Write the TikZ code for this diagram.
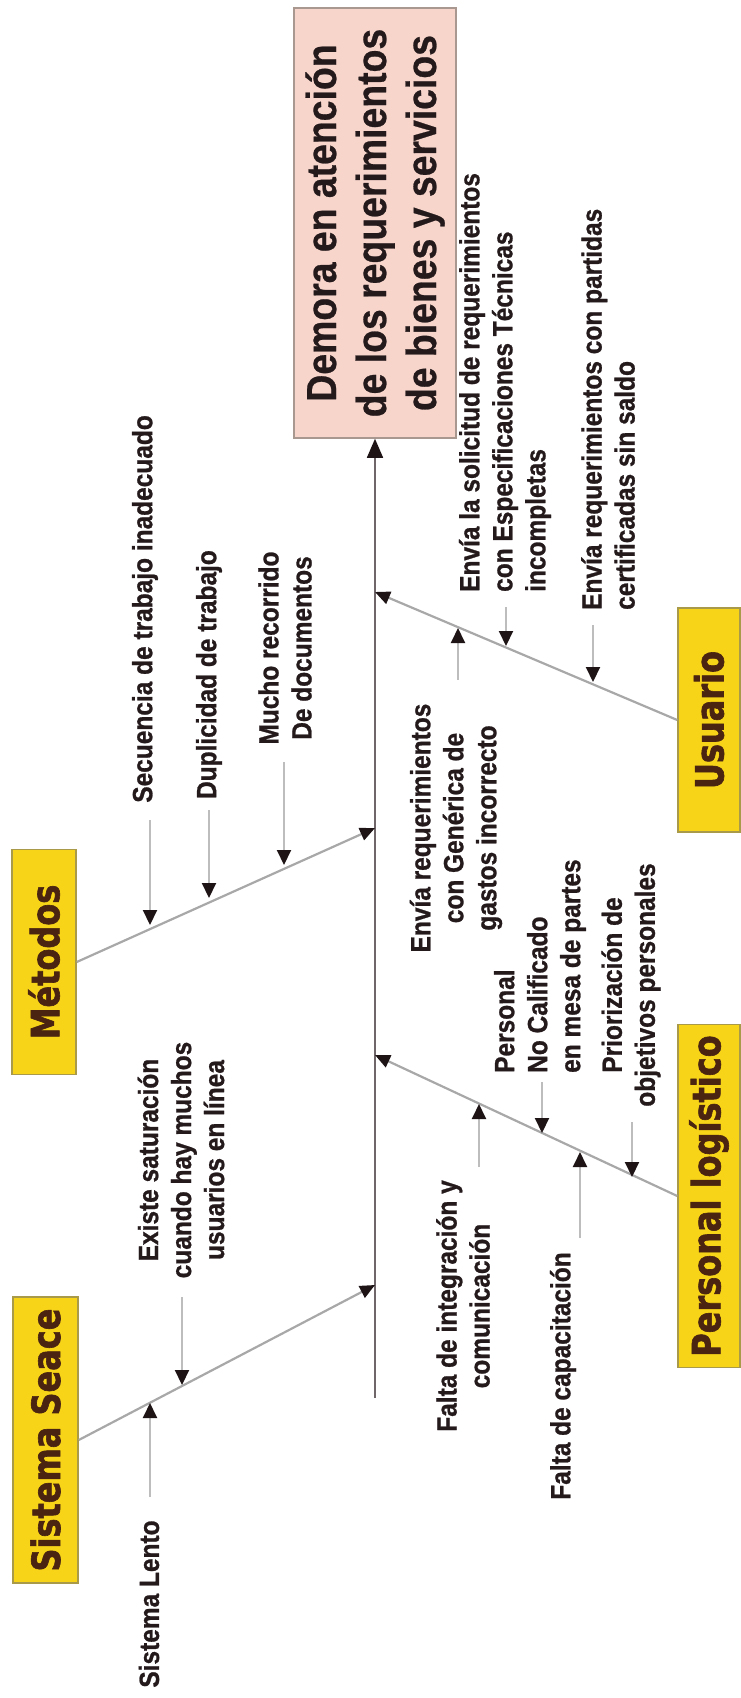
\documentclass[tikz,border=0pt]{standalone}
\usepackage{fontspec}
\setmainfont{Liberation Sans}
\newfontfamily\lblfont{Liberation Sans}[FakeStretch=0.88, BoldFeatures={FakeBold=0.9}]
\newfontfamily\efffont{Liberation Sans}[FakeStretch=0.89, BoldFeatures={FakeBold=0.6}]
\newfontfamily\catfont{DejaVu Sans}[FakeStretch=0.82, BoldFeatures={FakeBold=1.6}]
\usetikzlibrary{arrows.meta}

\definecolor{efffill}{HTML}{F8D5CB}
\definecolor{effdraw}{HTML}{A89890}
\definecolor{catfill}{HTML}{F7D417}
\definecolor{catdraw}{HTML}{A89A48}
\definecolor{cattext}{HTML}{4A2410}
\definecolor{labelcol}{HTML}{241A1C}
\definecolor{branchcol}{HTML}{A8A8A8}
\definecolor{spinecol}{HTML}{6E6668}
\definecolor{causecol}{HTML}{BDBDBD}
\definecolor{headcol}{HTML}{1E1416}

\tikzset{
  effectbox/.style={draw=effdraw, fill=efffill, line width=1.5pt, rotate=90,
    align=center, inner sep=0pt, text=labelcol,
    font=\efffont\fontsize{42}{50}\selectfont\bfseries},
  catbox/.style={draw=catdraw, fill=catfill, line width=1.5pt, rotate=90,
    inner sep=0pt, text=cattext,
    font=\catfont\fontsize{39}{42}\selectfont\bfseries},
  lbl/.style={rotate=90, inner sep=0pt, text=labelcol,
    font=\lblfont\fontsize{27.8}{33}\selectfont\bfseries},
  spine/.style={draw=spinecol, line width=1.5pt,
    -{Triangle[length=19pt,width=16pt,color=headcol]}},
  branch/.style={draw=branchcol, line width=2.2pt,
    -{Triangle[length=15pt,width=13pt,color=headcol]}},
  cause/.style={draw=causecol, line width=2pt,
    -{Triangle[length=15pt,width=14pt,color=headcol]}}
}

\begin{document}
\begin{tikzpicture}[x=1pt,y=-1pt]
\useasboundingbox (0,0) rectangle (741,1698);

% effect
\node[effectbox, minimum width=430pt, minimum height=162pt] (effect) at (375,223)
  {Demora en atención\\de los requerimientos\\de bienes y servicios};

% category boxes
\node[catbox, minimum width=286pt, minimum height=65pt] (seace) at (45.5,1440) {Sistema Seace};
\node[catbox, minimum width=225pt, minimum height=64pt] (metodos) at (44,962) {Métodos};
\node[catbox, minimum width=224pt, minimum height=62pt] (usuario) at (709,720) {Usuario};
\node[catbox, minimum width=343pt, minimum height=62pt] (personal) at (709,1196) {Personal logístico};

% spine
\coordinate (spbot) at (375,1398);
\draw[spine] (spbot) -- (effect.west);

% branch ends on the spine
\coordinate (jm) at (375,828);
\coordinate (js) at (375,1285);
\coordinate (ju) at (375,592);
\coordinate (jp) at (375,1055);
\draw[branch] (metodos.south) -- (jm);
\draw[branch] (seace.south) -- (js);
\draw[branch] (usuario.north) -- (ju);
\draw[branch] (personal.north) -- (jp);

% Métodos causes
\node[lbl, anchor=east] (l1) at (145,415) {Secuencia de trabajo inadecuado};
\node[lbl, anchor=east] (l2) at (209,550) {Duplicidad de trabajo};
\node[lbl, align=center] (l3) at (285,648) {Mucho recorrido\\De documentos};
\coordinate (a1) at (150,820); \coordinate (b1) at (150,925);
\coordinate (a2) at (209,810); \coordinate (b2) at (209,898);
\coordinate (a3) at (284,762); \coordinate (b3) at (284,865);
\draw[cause] (a1) -- (b1);
\draw[cause] (a2) -- (b2);
\draw[cause] (a3) -- (b3);

% Sistema Seace causes
\node[lbl, align=center] (l4) at (181,1160) {Existe saturación\\cuando hay muchos\\usuarios en línea};
\node[lbl] (l5) at (149,1604) {Sistema Lento};
\coordinate (a4) at (182,1297); \coordinate (b4) at (182,1385);
\coordinate (a5) at (150,1497); \coordinate (b5) at (150,1403);
\draw[cause] (a4) -- (b4);
\draw[cause] (a5) -- (b5);

% Usuario causes
\node[lbl, align=left, anchor=west] (l6) at (505,592)
  {Envía la solicitud de requerimientos\\con Especificaciones Técnicas\\incompletas};
\node[lbl, align=left, anchor=west] (l7) at (608,610)
  {Envía requerimientos con partidas\\certificadas sin saldo};
\node[lbl, align=center] (l8) at (456,828)
  {Envía requerimientos\\con Genérica de\\gastos incorrecto};
\coordinate (a6) at (506,607); \coordinate (b6) at (506,646);
\coordinate (a7) at (593,625); \coordinate (b7) at (593,682);
\coordinate (a8) at (458,680); \coordinate (b8) at (458,628);
\draw[cause] (a6) -- (b6);
\draw[cause] (a7) -- (b7);
\draw[cause] (a8) -- (b8);

% Personal logístico causes
\node[lbl, align=left, anchor=west] (l9) at (540,1073)
  {Personal\\No Calificado\\en mesa de partes};
\node[lbl, align=center] (l10) at (631,985) {Priorización de\\objetivos personales};
\node[lbl, align=center] (l11) at (463,1306) {Falta de integración y\\comunicación};
\node[lbl] (l12) at (563,1376) {Falta de capacitación};
\coordinate (a9) at (542,1082); \coordinate (b9) at (542,1133);
\coordinate (a10) at (632,1122); \coordinate (b10) at (632,1177);
\coordinate (a11) at (479,1167); \coordinate (b11) at (479,1104);
\coordinate (a12) at (580,1238); \coordinate (b12) at (580,1152);
\draw[cause] (a9) -- (b9);
\draw[cause] (a10) -- (b10);
\draw[cause] (a11) -- (b11);
\draw[cause] (a12) -- (b12);

\end{tikzpicture}
\end{document}
